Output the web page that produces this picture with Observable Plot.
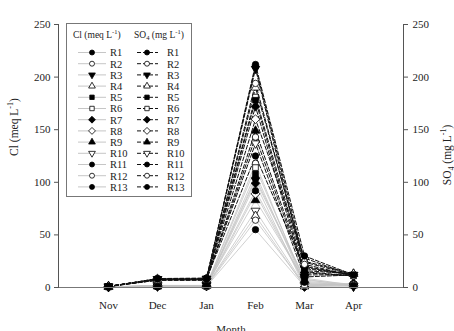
<!DOCTYPE html>
<html>
<head>
<meta charset="utf-8">
<script src="https://cdn.jsdelivr.net/npm/d3@7"></script>
<script src="https://cdn.jsdelivr.net/npm/@observablehq/plot@0.6"></script>
<style>
  body { margin: 0; background: #fff; }
  #chart { position: relative; width: 454px; height: 331px; overflow: hidden; }
</style>
</head>
<body>
<div id="chart"></div>
<script>
// ---- data ----
const months = ["Nov", "Dec", "Jan", "Feb", "Mar", "Apr"];
const sites = ["R1","R2","R3","R4","R5","R6","R7","R8","R9","R10","R11","R12","R13"];
const yTicks = [0, 50, 100, 150, 200, 250];

// Cl (meq L-1), one array per site: Nov, Dec, Jan, Feb, Mar, Apr
const clValues = [
  [0.5, 1.0, 1.5, 92, 5, 2],
  [0.5, 1.5, 1.0, 64, 2, 3],
  [0.8, 1.0, 2.0, 102, 8, 1],
  [0.5, 2.0, 1.5, 68, 1, 2],
  [0.6, 1.0, 1.0, 108, 3, 3],
  [0.5, 1.5, 2.0, 114, 6, 2],
  [0.7, 1.0, 1.5, 99, 0.5, 4],
  [0.5, 2.0, 1.0, 89, 4, 2],
  [0.6, 1.0, 2.0, 83, 7, 3],
  [0.5, 1.5, 1.5, 73, 2, 1],
  [0.8, 1.0, 1.0, 55, 1, 2],
  [0.5, 2.0, 2.0, 118, 3, 3],
  [0.6, 1.0, 1.5, 104, 9, 2]
];
// SO4 (mg L-1)
const so4Values = [
  [1.0, 8.0, 8.0, 212, 30, 12],
  [0.8, 7.0, 7.5, 194, 22, 11],
  [1.2, 8.0, 8.5, 208, 18, 12],
  [1.0, 7.0, 7.0, 190, 25, 13],
  [0.9, 8.0, 8.0, 178, 15, 11],
  [1.1, 7.5, 7.5, 181, 20, 12],
  [1.0, 8.0, 8.0, 172, 12, 12],
  [0.8, 8.5, 8.5, 160, 28, 11],
  [1.2, 7.0, 7.0, 149, 16, 13],
  [1.0, 8.0, 8.0, 137, 10, 12],
  [0.9, 8.5, 9.0, 210, 24, 12],
  [1.1, 7.5, 7.5, 143, 14, 11],
  [1.0, 8.0, 8.0, 125, 19, 12]
];

// ---- symbols ----
const triDown = {draw(ctx, size) {
  const y = -Math.sqrt(size / (Math.sqrt(3) * 3));
  ctx.moveTo(0, -y * 2);
  ctx.lineTo(-Math.sqrt(3) * y, y);
  ctx.lineTo(Math.sqrt(3) * y, y);
  ctx.closePath();
}};
const triUp = {draw(ctx, size) {
  const y = -Math.sqrt(size / (Math.sqrt(3) * 3));
  ctx.moveTo(0, y * 2);
  ctx.lineTo(-Math.sqrt(3) * y, -y);
  ctx.lineTo(Math.sqrt(3) * y, -y);
  ctx.closePath();
}};
const diamond = {draw(ctx, size) {
  const r = Math.sqrt(size / 2) * 1.1;
  ctx.moveTo(0, -r); ctx.lineTo(r, 0); ctx.lineTo(0, r); ctx.lineTo(-r, 0); ctx.closePath();
}};
const siteSymbols = [d3.symbolCircle, d3.symbolCircle, triDown, triUp, d3.symbolSquare, d3.symbolSquare,
  diamond, diamond, triUp, triDown, d3.symbolCircle, d3.symbolCircle, d3.symbolCircle];
const siteFilled = [true, false, true, false, true, false, true, false, true, false, true, false, true];

// ---- build rows ----
function rows(values, param) {
  return values.flatMap((vals, i) => vals.map((v, j) => ({site: sites[i], idx: i, param, month: months[j], value: v})));
}
const clRows = rows(clValues, "Cl");
const so4Rows = rows(so4Values, "SO4");

const font = "Liberation Serif, Times New Roman, serif";
const marks = [];
// Cl lines (solid gray)
marks.push(Plot.line(clRows, {x: "month", y: "value", z: "site", stroke: "#c4c4c4", strokeWidth: 0.8}));
// SO4 lines (dashed black)
marks.push(Plot.line(so4Rows, {x: "month", y: "value", z: "site", stroke: "#111", strokeWidth: 1, strokeDasharray: "4,2"}));
// dots
for (let i = sites.length - 1; i >= 0; i--) {
  for (const data of [clRows, so4Rows]) {
    marks.push(Plot.dot(data.filter(d => d.idx === i), {
      x: "month", y: "value", symbol: siteSymbols[i], r: 3.2,
      fill: siteFilled[i] ? "#000" : "#fff", stroke: "#000", strokeWidth: 0.8
    }));
  }
}
// axes
marks.push(Plot.ruleY([0], {stroke: "#777", strokeWidth: 1}));
marks.push(Plot.frame({anchor: "left", stroke: "#555"}));
marks.push(Plot.frame({anchor: "right", stroke: "#555"}));
marks.push(Plot.axisY(yTicks, {anchor: "left", tickSize: 4, tickPadding: 4, label: null, fontSize: 11, stroke: "#555"}));
marks.push(Plot.axisY(yTicks, {anchor: "right", tickSize: 4, tickPadding: 5, label: null, fontSize: 11, stroke: "#555"}));
marks.push(Plot.axisX({tickSize: 0, tickPadding: 14, label: null, fontSize: 11}));

const chart = Plot.plot({
  width: 454, height: 331,
  marginLeft: 58, marginRight: 51, marginTop: 24, marginBottom: 44,
  style: {fontFamily: font, fontSize: "11px", color: "#222", background: "#fff"},
  x: {type: "point", domain: months, padding: 1},
  y: {domain: [0, 250]},
  marks
});
document.getElementById("chart").appendChild(chart);

// ---- axis titles and legend ----
const svg = d3.select(chart);
const g = svg.append("g").attr("font-family", font).attr("fill", "#222").attr("text-anchor", "start");

const yl = g.append("text").attr("transform", "translate(18,127) rotate(-90)")
  .attr("text-anchor", "middle").attr("font-size", 11.5);
yl.append("tspan").text("Cl (meq L");
yl.append("tspan").attr("font-size", 8).attr("dy", -5).text("-1");
yl.append("tspan").attr("dy", 5).text(")");

const yr = g.append("text").attr("transform", "translate(451,155) rotate(-90)")
  .attr("text-anchor", "middle").attr("font-size", 11.5);
yr.append("tspan").text("SO");
yr.append("tspan").attr("font-size", 8).attr("dy", 3).text("4");
yr.append("tspan").attr("dy", -3).text(" (mg L");
yr.append("tspan").attr("font-size", 8).attr("dy", -5).text("-1");
yr.append("tspan").attr("dy", 5).text(")");

g.append("text").attr("x", 231).attr("y", 333).attr("text-anchor", "middle")
  .attr("font-size", 11).text("Month");

// legend box
const lg = g.append("g").attr("text-anchor", "start");
lg.append("rect").attr("x", 66.5).attr("y", 23.5).attr("width", 125).attr("height", 173)
  .attr("fill", "#fff").attr("stroke", "#777").attr("stroke-width", 1);
const h1 = lg.append("text").attr("x", 73).attr("y", 38).attr("font-size", 9.5);
h1.append("tspan").text("Cl (meq L");
h1.append("tspan").attr("font-size", 6.5).attr("dy", -4).text("-1");
h1.append("tspan").attr("dy", 4).text(")");
const h2 = lg.append("text").attr("x", 134).attr("y", 38).attr("font-size", 9.5);
h2.append("tspan").text("SO");
h2.append("tspan").attr("font-size", 6.5).attr("dy", 2).text("4");
h2.append("tspan").attr("dy", -2).text(" (mg L");
h2.append("tspan").attr("font-size", 6.5).attr("dy", -4).text("-1");
h2.append("tspan").attr("dy", 4).text(")");

const symSize = Math.PI * 2.5 * 2.5;
sites.forEach((s, i) => {
  const y = 52.5 + i * 11.2;
  // Cl entry
  lg.append("line").attr("x1", 78).attr("x2", 106).attr("y1", y).attr("y2", y)
    .attr("stroke", "#b8b8b8").attr("stroke-width", 0.8);
  lg.append("path").attr("d", d3.symbol(siteSymbols[i], symSize)())
    .attr("transform", `translate(92,${y})`)
    .attr("fill", siteFilled[i] ? "#000" : "#fff").attr("stroke", "#000").attr("stroke-width", 0.8);
  lg.append("text").attr("x", 110).attr("y", y + 3.8).attr("font-size", 10.5).text(s);
  // SO4 entry
  lg.append("line").attr("x1", 137).attr("x2", 158).attr("y1", y).attr("y2", y)
    .attr("stroke", "#111").attr("stroke-width", 1).attr("stroke-dasharray", "4,2");
  lg.append("path").attr("d", d3.symbol(siteSymbols[i], symSize)())
    .attr("transform", `translate(147,${y})`)
    .attr("fill", siteFilled[i] ? "#000" : "#fff").attr("stroke", "#000").attr("stroke-width", 0.8);
  lg.append("text").attr("x", 167).attr("y", y + 3.8).attr("font-size", 10.5).text(s);
});
</script>
</body>
</html>
